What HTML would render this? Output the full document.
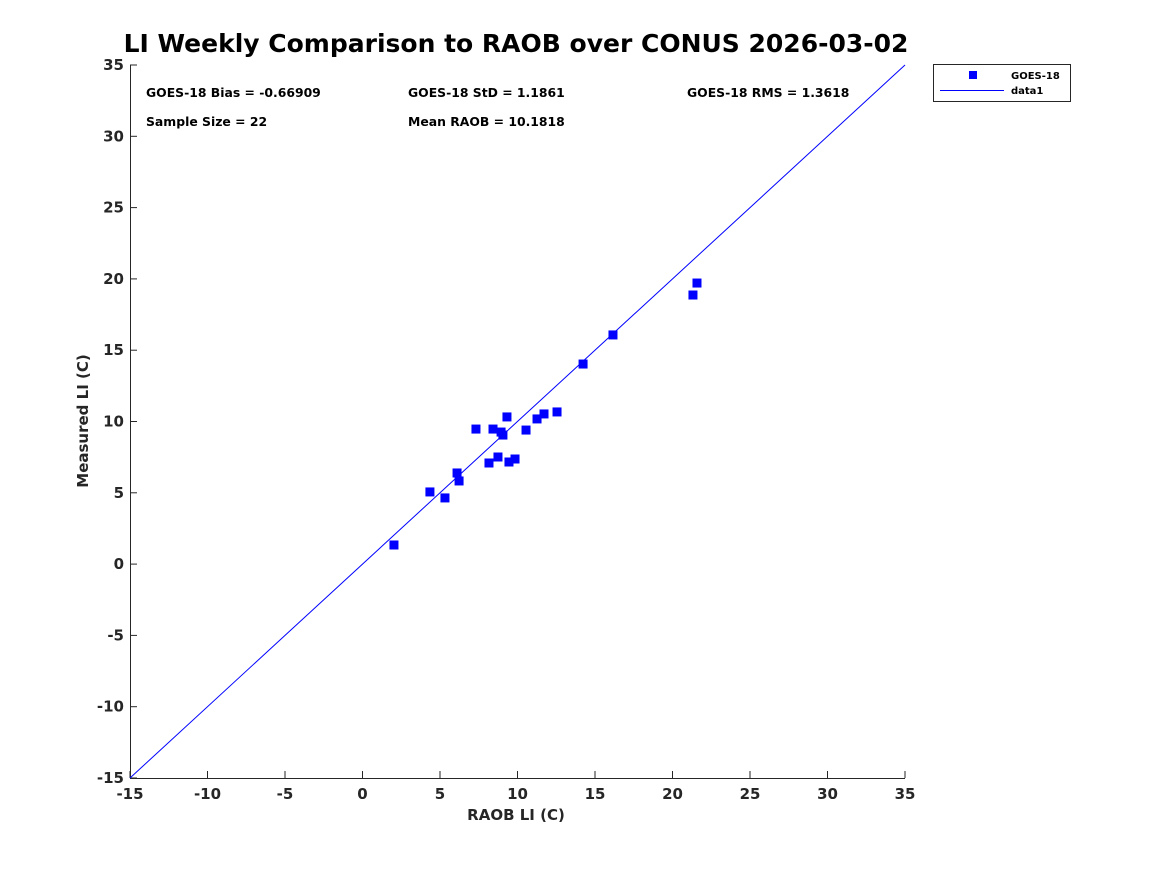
<!DOCTYPE html>
<html><head><meta charset="utf-8"><style>
body{margin:0;background:#fff;font-family:"Liberation Sans",sans-serif;}
svg text{font-family:"DejaVu Sans","Liberation Sans",sans-serif;font-weight:bold;fill:#262626}
</style></head><body>
<svg id="chart" width="1167" height="875">
<text x="516" y="52" text-anchor="middle" font-size="25" style="fill:#000">LI Weekly Comparison to RAOB over CONUS 2026-03-02</text>
<g id="axes"></g>
<g id="marks"></g>
<text x="146" y="97" font-size="12.4" style="fill:#000">GOES-18 Bias = -0.66909</text>
<text x="408" y="97" font-size="12.4" style="fill:#000">GOES-18 StD = 1.1861</text>
<text x="687" y="97" font-size="12.4" style="fill:#000">GOES-18 RMS = 1.3618</text>
<text x="146" y="126" font-size="12.4" style="fill:#000">Sample Size = 22</text>
<text x="408" y="126" font-size="12.4" style="fill:#000">Mean RAOB = 10.1818</text>
<g>
<rect x="933.5" y="64.5" width="137" height="37" fill="#fff" stroke="#262626"/>
<rect x="969" y="71" width="8" height="8" fill="#0000ff"/>
<text x="1011" y="79" font-size="10" style="fill:#000">GOES-18</text>
<line x1="940" y1="90.5" x2="1004" y2="90.5" stroke="#0000ff"/>
<text x="1011" y="94" font-size="10" style="fill:#000">data1</text>
</g>
<text x="516" y="820" text-anchor="middle" font-size="15">RAOB LI (C)</text>
<text transform="translate(88,421) rotate(-90)" text-anchor="middle" font-size="15">Measured LI (C)</text>
</svg>
<script>
const raobX=[2.03,4.35,5.32,6.10,6.23,7.32,8.16,8.42,8.74,8.94,9.06,9.32,9.45,9.84,10.55,11.26,11.71,12.55,14.23,16.16,21.32,21.58];
const measuredY=[1.34,5.06,4.64,6.39,5.83,9.47,7.09,9.47,7.51,9.26,9.05,10.32,7.16,7.37,9.40,10.18,10.53,10.67,14.03,16.07,18.87,19.71];
const ticks=[-15,-10,-5,0,5,10,15,20,25,30,35];
const NS='http://www.w3.org/2000/svg';
const L=130,R=905,T=65,B=778,MIN=-15,MAX=35;
const sx=v=>L+(v-MIN)/(MAX-MIN)*(R-L);
const sy=v=>B-(v-MIN)/(MAX-MIN)*(B-T);
function mk(t,a,p){const e=document.createElementNS(NS,t);for(const k in a)e.setAttribute(k,a[k]);p.appendChild(e);return e;}
const ax=document.getElementById('axes'),mg=document.getElementById('marks');
let e=mk('line',{x1:L,y1:B+.5,x2:R,y2:B+.5,stroke:'#262626'},ax);


e=mk('line',{x1:L+.5,y1:T,x2:L+.5,y2:B,stroke:'#262626'},ax);


ticks.forEach(t=>{
 mk('line',{x1:sx(t),y1:B,x2:sx(t),y2:B-7,stroke:'#262626'},ax);
 mk('line',{x1:L,y1:sy(t),x2:L+7,y2:sy(t),stroke:'#262626'},ax);
 let a=mk('text',{x:sx(t),y:B+21,'text-anchor':'middle','font-size':15},ax);a.textContent=t;
 
 
 let b=mk('text',{x:L-6,y:sy(t)+5,'text-anchor':'end','font-size':15},ax);b.textContent=t;
 
 
});
e=mk('line',{x1:sx(MIN),y1:sy(MIN),x2:sx(MAX),y2:sy(MAX),stroke:'#0000ff'},mg);


raobX.forEach((x,i)=>{
 const r=mk('rect',{x:sx(x)-4.5,y:sy(measuredY[i])-4.5,width:9,height:9,fill:'#0000ff'},mg);
 
 
});
</script>
</body></html>
